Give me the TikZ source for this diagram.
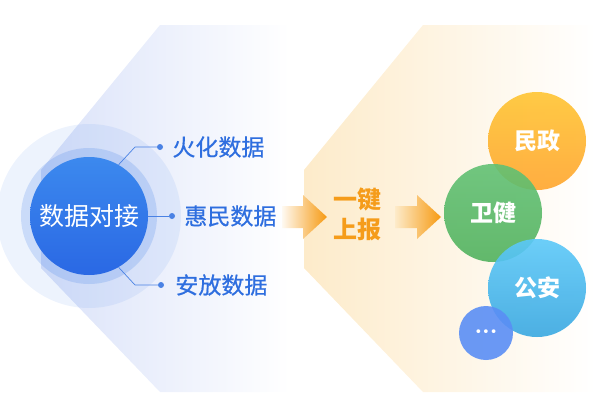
\documentclass[tikz,border=0pt]{standalone}
\usepackage{fontspec}
\setmainfont{Noto Sans CJK SC}
\newfontfamily\medfont[FakeBold=0.6]{Noto Sans CJK SC}
\newfontfamily\dotfont{DejaVu Sans}
\usetikzlibrary{calc,positioning}

% Colori
\definecolor{bandBlue}{HTML}{DAE2F9}
\definecolor{bandOrange}{HTML}{FDEBCA}
\definecolor{hubTop}{HTML}{3C89EE}
\definecolor{hubBot}{HTML}{2A68E4}
\definecolor{haloBlue}{HTML}{3A7BE8}
\definecolor{textBlue}{HTML}{2E6EDF}
\definecolor{wireBlue}{HTML}{4A82E4}
\definecolor{arrowOr}{HTML}{F69A12}
\definecolor{textOr}{HTML}{F59C1A}
\definecolor{mzTop}{HTML}{FFC532}
\definecolor{mzBot}{HTML}{FFA52E}
\definecolor{wjTop}{HTML}{62C174}
\definecolor{wjBot}{HTML}{52B25E}
\definecolor{gaTop}{HTML}{5CC9F9}
\definecolor{gaBot}{HTML}{39A8E1}
\definecolor{moreBlue}{HTML}{5A8EF5}

\begin{document}
\begin{tikzpicture}[x=1pt,y=-1pt,
  srctext/.style={font=\medfont\fontsize{23}{27}\selectfont, text=textBlue, inner sep=0pt},
  dot/.style={circle, fill=wireBlue, inner sep=0pt, minimum size=6pt},
  wire/.style={wireBlue, line width=0.7pt},
  dept/.style={circle, inner sep=0pt, minimum size=98pt, text=white,
    font=\fontsize{23}{26}\selectfont\bfseries, fill opacity=0.9, text opacity=1},
  blockarrow/.style={left color=arrowOr!6, right color=arrowOr}
]
\useasboundingbox (0,0) rectangle (595,407);

% Fasce di sfondo
\shade[left color=bandBlue, right color=white]
  (160,25) -- (41,170) -- (41,268) -- (160,392) -- (290,392) -- (290,25) -- cycle;
\shade[left color=bandOrange, right color=white]
  (423,25) -- (304,170) -- (304,268) -- (423,392) -- (595,392) -- (595,25) -- cycle;

% Nodo centrale con aloni
\coordinate (c) at (89,216);
\fill[haloBlue, fill opacity=0.09] (c) circle (92pt);
\fill[haloBlue, fill opacity=0.2] (c) circle (68pt);
\node[circle, minimum size=118pt, inner sep=0pt, top color=hubTop, bottom color=hubBot,
  text=white, font=\fontsize{25}{30}\selectfont] (hub) at (c) {数据对接};

% Sorgenti dati
\node[dot] (d1) at (160,147) {};
\node[dot] (d2) at (172,216) {};
\node[dot] (d3) at (161,285) {};
\node[srctext, right=9pt of d1] (fire) {火化数据};
\node[srctext, right=9pt of d2] (huimin) {惠民数据};
\node[srctext, right=11pt of d3] (anfang) {安放数据};

\draw[wire] (hub.60) -- ($(d1)+(-25,0)$) -- (d1);
\draw[wire] (hub.east) -- (d2);
\draw[wire] (hub.-60) -- ($(d3)+(-26,0)$) -- (d3);

% Frecce
\shade[blockarrow]
  (282,206) -- (303,206) -- (303,195) -- (327,217) -- (303,239) -- (303,228) -- (282,228) -- cycle;
\shade[blockarrow, left color=bandOrange]
  (395,206) -- (417,206) -- (417,195) -- (441,217) -- (417,239) -- (417,228) -- (395,228) -- cycle;

\node[font=\fontsize{24}{30}\selectfont\bfseries, text=textOr, align=center] (report) at (357,214) {一键\\上报};

% Enti destinatari
\node[dept, top color=mzTop, bottom color=mzBot] (minzheng) at (537,141) {民政};
\node[dept, top color=wjTop, bottom color=wjBot] (weijian) at (493,213) {卫健};
\node[dept, top color=gaTop, bottom color=gaBot] (gongan) at (537,288) {公安};
\node[dept, minimum size=54pt, fill=moreBlue, font=\dotfont\fontsize{13}{13}\selectfont] (more) at (486,333) {•••};

\end{tikzpicture}
\end{document}
